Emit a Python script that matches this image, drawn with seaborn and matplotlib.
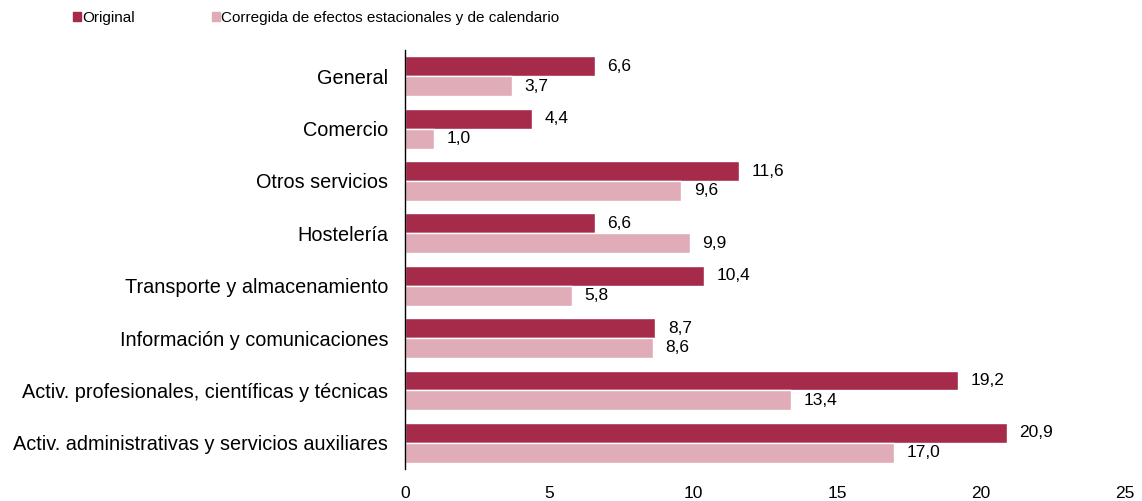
import pandas as pd
import seaborn as sns
import matplotlib.pyplot as plt

# Data
categories = ['General', 'Comercio', 'Otros servicios', 'Hostelería',
              'Transporte y almacenamiento', 'Información y comunicaciones',
              'Activ. profesionales, científicas y técnicas',
              'Activ. administrativas y servicios auxiliares']
original = [6.6, 4.4, 11.6, 6.6, 10.4, 8.7, 19.2, 20.9]
corregida = [3.7, 1.0, 9.6, 9.9, 5.8, 8.6, 13.4, 17.0]
series = ['Original', 'Corregida de efectos estacionales y de calendario']
colors = ['#A62B4A', '#DFACB7']

df = pd.DataFrame({
    'categoria': categories * 2,
    'valor': original + corregida,
    'serie': [series[0]] * len(categories) + [series[1]] * len(categories),
})

sns.set_style('white')
plt.rcParams['font.family'] = ['Liberation Sans', 'DejaVu Sans']
plt.rcParams['text.color'] = 'black'
plt.rcParams['xtick.color'] = 'black'
plt.rcParams['ytick.color'] = 'black'

fig = plt.figure(figsize=(11.42, 5.01), dpi=100)
ax = fig.add_axes([0.3546, 0.064, 0.6304, 0.836])

sns.barplot(data=df, y='categoria', x='valor', hue='serie', order=categories,
            hue_order=series, palette=colors, orient='h', width=0.76,
            saturation=1, ax=ax, legend=False)

for cont in ax.containers:
    ax.bar_label(cont, labels=[f'{v:.1f}'.replace('.', ',') for v in cont.datavalues],
                 padding=9, fontsize=12.5, color='black')

ax.set_xlim(0, 25)
ax.set_xticks([0, 5, 10, 15, 20, 25])
ax.set_xlabel('')
ax.set_ylabel('')
ax.tick_params(axis='x', length=0, pad=12, labelsize=12.5)
ax.tick_params(axis='y', length=0, pad=12, labelsize=14.3)
for s in ['top', 'right', 'bottom']:
    ax.spines[s].set_visible(False)
ax.spines['left'].set_color('black')
ax.spines['left'].set_linewidth(1)

handles = [plt.Rectangle((0, 0), 1, 1, color=c) for c in colors]
fig.legend(handles, series, loc='upper left', bbox_to_anchor=(0.052, 1.006),
           ncol=2, frameon=False, fontsize=11, handlelength=0.52, handleheight=0.52,
           handletextpad=0.1, columnspacing=5.0)

plt.savefig('out.png', dpi=100)
